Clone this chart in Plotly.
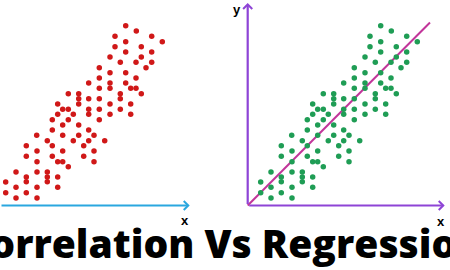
import plotly.graph_objects as go

# Scatter data (same point cloud shown in both panels)
pts_x = [133.0, 143.6, 122.3, 159.0, 169.6, 133.0, 122.3, 148.6, 133.0, 159.0,
         117.3, 148.6, 127.6, 143.3, 159.0, 153.3, 106.6, 117.3, 133.0, 106.6,
         143.3, 96.0, 117.3, 133.0, 106.6, 117.3, 138.0, 143.3, 75.6, 86.0,
         127.6, 148.6, 86.0, 96.0, 106.6, 127.6, 65.0, 86.0, 117.3, 138.0,
         70.0, 75.6, 96.0, 106.6, 127.6, 65.0, 80.6, 96.0, 117.3, 138.0,
         59.6, 75.6, 106.6, 70.0, 86.0, 59.6, 96.0, 44.0, 70.0, 86.0,
         101.3, 54.6, 80.6, 96.0, 112.0, 33.6, 59.6, 91.0, 44.3, 70.0,
         101.3, 33.6, 59.6, 91.0, 44.3, 65.0, 70.0, 101.3, 75.6, 23.3,
         44.3, 54.6, 33.6, 54.6, 65.0, 33.6, 54.6, 13.0, 23.3, 44.3,
         65.0, 13.0, 33.6, 23.3, 44.3]
pts_y = [179.8, 174.5, 169.2, 169.2, 163.8, 163.8, 158.8, 158.8, 153.5, 153.5,
         148.5, 148.5, 143.2, 143.2, 143.2, 137.8, 137.8, 132.8, 132.8, 127.5,
         127.5, 122.5, 122.5, 122.5, 117.2, 117.2, 117.2, 117.2, 111.8, 111.8,
         111.8, 111.8, 106.8, 106.8, 106.8, 106.8, 101.5, 101.5, 101.5, 101.5,
         96.2, 96.2, 96.2, 96.2, 96.2, 91.2, 91.2, 91.2, 91.2, 91.2,
         85.8, 85.8, 85.8, 80.5, 80.5, 75.5, 75.5, 70.2, 70.2, 70.2,
         70.2, 64.8, 64.8, 64.8, 64.8, 59.8, 59.8, 59.8, 54.5, 54.5,
         54.5, 49.2, 49.2, 49.2, 43.8, 43.8, 43.8, 43.8, 38.8, 33.5,
         33.5, 33.5, 28.5, 28.5, 28.5, 23.8, 23.8, 23.5, 18.2, 18.2,
         18.2, 12.8, 12.8, 7.5, 7.5]

# Regression line end points
line_x = [0, 182.3]
line_y = [0, 183.0]

axis_len_x = 197.0
axis_len_y = 202.5

title_text = "Correlation Vs Regression"

RED = "#D01818"
GREEN = "#1F9D55"
PURPLE = "#8E44D6"
MAGENTA = "#C2359A"
BLUE = "#2AA7DF"

fig = go.Figure()

fig.add_trace(go.Scatter(x=pts_x, y=pts_y, mode="markers", xaxis="x", yaxis="y",
                         marker=dict(color=RED, size=5.5, line=dict(width=0)),
                         showlegend=False, hoverinfo="skip"))
fig.add_trace(go.Scatter(x=line_x, y=line_y, mode="lines", xaxis="x2", yaxis="y2",
                         line=dict(color=MAGENTA, width=2),
                         showlegend=False, hoverinfo="skip"))
fig.add_trace(go.Scatter(x=pts_x, y=pts_y, mode="markers", xaxis="x2", yaxis="y2",
                         marker=dict(color=GREEN, size=5.5, line=dict(width=0)),
                         showlegend=False, hoverinfo="skip"))

ann = []
# left x axis (blue); its origin lies just left of the picture
ann.append(dict(x=axis_len_x, y=0, ax=7.3, ay=0, xref="x", yref="y", axref="x", ayref="y",
                text="", showarrow=True, arrowhead=4, arrowsize=0.8, arrowwidth=2.2,
                arrowcolor=BLUE, standoff=0, startstandoff=0))
# right axes (purple)
ann.append(dict(x=axis_len_x, y=0, ax=0, ay=0, xref="x2", yref="y2", axref="x2", ayref="y2",
                text="", showarrow=True, arrowhead=4, arrowsize=0.8, arrowwidth=2.2,
                arrowcolor=PURPLE, standoff=0))
ann.append(dict(x=0, y=axis_len_y, ax=0, ay=0, xref="x2", yref="y2", axref="x2", ayref="y2",
                text="", showarrow=True, arrowhead=4, arrowsize=0.8, arrowwidth=2.2,
                arrowcolor=PURPLE, standoff=0))
lab_font = dict(family="Liberation Sans, Arial", size=13, color="black", weight="bold")
ann.append(dict(x=192.3, y=-15.2, xref="x", yref="y", text="x", showarrow=False, font=lab_font))
ann.append(dict(x=193, y=-16.2, xref="x2", yref="y2", text="x", showarrow=False, font=lab_font))
ann.append(dict(x=-11, y=196.5, xref="x2", yref="y2", text="y", showarrow=False, font=lab_font))
ann.append(dict(x=0.497, y=1 - 242 / 270, xref="paper", yref="paper", text=title_text,
                showarrow=False, xanchor="center", yanchor="middle",
                font=dict(family="Open Sans", size=39, color="black", weight=800)))

ax_common = dict(visible=False, showgrid=False, zeroline=False, fixedrange=True)
fig.update_layout(
    width=450, height=270,
    margin=dict(l=0, r=0, t=0, b=0),
    paper_bgcolor="white", plot_bgcolor="white",
    xaxis=dict(domain=[0, 0.5], range=[7.3, 232.3], **ax_common),
    yaxis=dict(domain=[0, 1], range=[-64.5, 205.5], **ax_common),
    xaxis2=dict(domain=[0.5, 1], range=[-22.7, 202.3], anchor="y2", **ax_common),
    yaxis2=dict(domain=[0, 1], range=[-64.5, 205.5], anchor="x2", **ax_common),
    annotations=ann,
)

fig.write_html("out.html")
